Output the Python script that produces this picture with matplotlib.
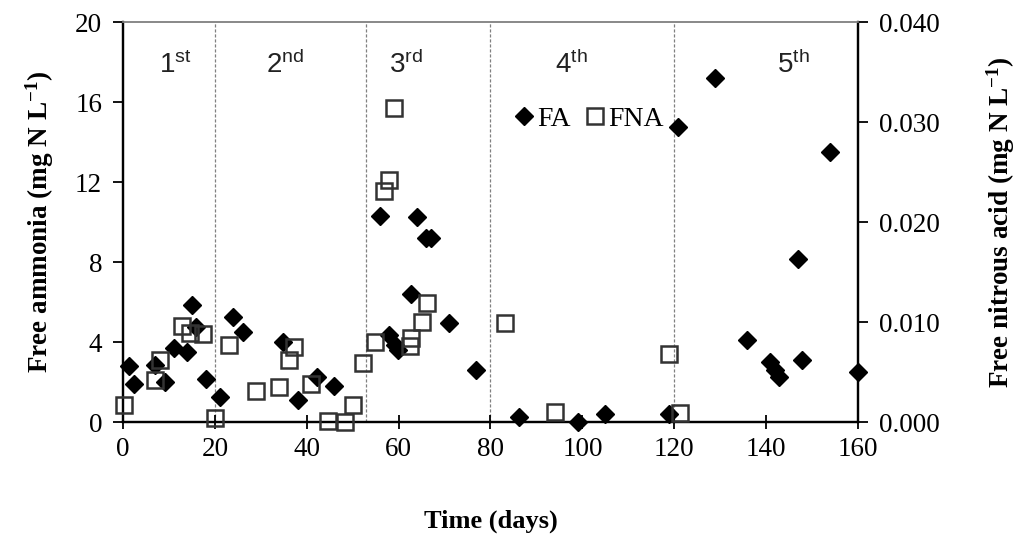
import matplotlib
matplotlib.use("Agg")
import matplotlib.pyplot as plt

plt.rcParams['font.family'] = ['Liberation Serif', 'DejaVu Serif']
plt.rcParams['mathtext.default'] = 'regular'

# Data
fa_days = [1.2, 2.3, 7.0, 9.1, 11.0, 14.0, 15.0, 16.0, 18.1, 21.1, 24.0, 26.2,
           34.9, 38.0, 42.2, 46.0, 55.9, 58.0, 59.2, 59.9, 62.8, 63.9, 66.0, 67.0,
           71.0, 76.9, 86.1, 99.0, 104.9, 118.9, 120.8, 128.9, 135.9, 140.8,
           141.9, 142.9, 146.9, 147.9, 153.9, 159.9]
fa_vals = [2.8, 1.9, 2.85, 2.02, 3.7, 3.5, 5.85, 4.75, 2.13, 1.27, 5.23, 4.52,
           3.98, 1.1, 2.27, 1.8, 10.3, 4.35, 3.85, 3.6, 6.38, 10.27, 9.2, 9.18,
           4.93, 2.58, 0.27, 0.0, 0.38, 0.4, 14.77, 17.2, 4.1, 3.0,
           2.6, 2.27, 8.13, 3.1, 13.5, 2.52]

fna_days = [0.2, 7.0, 8.0, 12.8, 14.5, 17.5, 20.0, 23.0, 28.9, 34.0, 36.2, 37.3,
            40.9, 44.7, 48.3, 50.1, 52.3, 54.9, 56.8, 57.9, 59.0, 62.5, 62.8,
            65.0, 66.1, 83.2, 94.0, 118.9, 121.2]
fna_vals = [0.0017, 0.0042, 0.0062, 0.0096, 0.0089, 0.0088, 0.0004, 0.0077,
            0.0031, 0.0035, 0.0062, 0.0075, 0.0038, 0.0001, 0.0, 0.0017, 0.0059,
            0.0080, 0.0231, 0.0242, 0.0314, 0.0076, 0.0084, 0.0100, 0.0119,
            0.0099, 0.0010, 0.0068, 0.0009]

phase_bounds = [20, 53, 80, 120]
phase_labels = ["1", "2", "3", "4", "5"]
phase_sups = ["st", "nd", "rd", "th", "th"]
phase_label_x = [11.3, 35.3, 61.5, 97.7, 146]

x_ticks = [0, 20, 40, 60, 80, 100, 120, 140, 160]
left_ticks = [0, 4, 8, 12, 16, 20]
right_ticks = [0.0, 0.01, 0.02, 0.03, 0.04]

fig = plt.figure(figsize=(10.19, 5.42), dpi=100)
ax = fig.add_axes([0.1207, 0.2214, 0.842 - 0.1207, 0.9594 - 0.2214])
ax2 = ax.twinx()

for b in phase_bounds:
    ax.axvline(b, color='#808080', lw=0.9, ls=(0, (2.5, 1.5)), zorder=1)

ax.plot(fa_days, fa_vals, ls='none', marker='D', ms=9, color='black',
        mec='black', label='FA', zorder=3, clip_on=False)
ax2.plot(fna_days, fna_vals, ls='none', marker='s', ms=12, mfc='none',
         mec='#333333', mew=1.8, label='FNA', zorder=3, clip_on=False)

ax.set_xlim(0, 160)
ax.set_ylim(0, 20)
ax2.set_ylim(0, 0.04)
ax.set_xticks(x_ticks)
ax.set_yticks(left_ticks)
ax2.set_yticks(right_ticks)
ax2.set_yticklabels([f"{v:.3f}" for v in right_ticks])

tick_fs = 19.5
ax.tick_params(axis='x', direction='inout', length=10, width=1.3, labelsize=tick_fs, pad=6)
ax.tick_params(axis='y', direction='out', length=7, width=1.3, labelsize=tick_fs, pad=8)
ax2.tick_params(axis='y', direction='out', length=7, width=1.3, labelsize=tick_fs, pad=8)

for a in (ax, ax2):
    for s in ['left', 'right', 'bottom']:
        a.spines[s].set_linewidth(1.6)
        a.spines[s].set_color('black')
    a.spines['top'].set_color('#888888')
    a.spines['top'].set_linewidth(1.2)

ax.set_xlabel('Time (days)', fontsize=19, fontweight='bold', labelpad=34)
ax.set_ylabel('Free ammonia (mg N L$^{-1}$)', fontsize=19.5, fontweight='bold', labelpad=14)
ax2.set_ylabel('Free nitrous acid (mg N L$^{-1}$)', fontsize=19.5, fontweight='bold', labelpad=32)

for lab, sup, xp in zip(phase_labels, phase_sups, phase_label_x):
    ax.text(xp, 17.85, lab + '$^{' + sup + '}$', fontsize=20, ha='center', va='center',
            family=['Liberation Sans', 'DejaVu Sans'], color='#222222')

h1, l1 = ax.get_legend_handles_labels()
h2, l2 = ax2.get_legend_handles_labels()
leg = ax.legend(h1 + h2, l1 + l2, loc='center', bbox_to_anchor=(0.632, 0.757),
                ncol=2, frameon=False, fontsize=20, handletextpad=0.05,
                columnspacing=0.4, handlelength=0.9, markerscale=1.0)

fig.savefig('out.png', dpi=100)
